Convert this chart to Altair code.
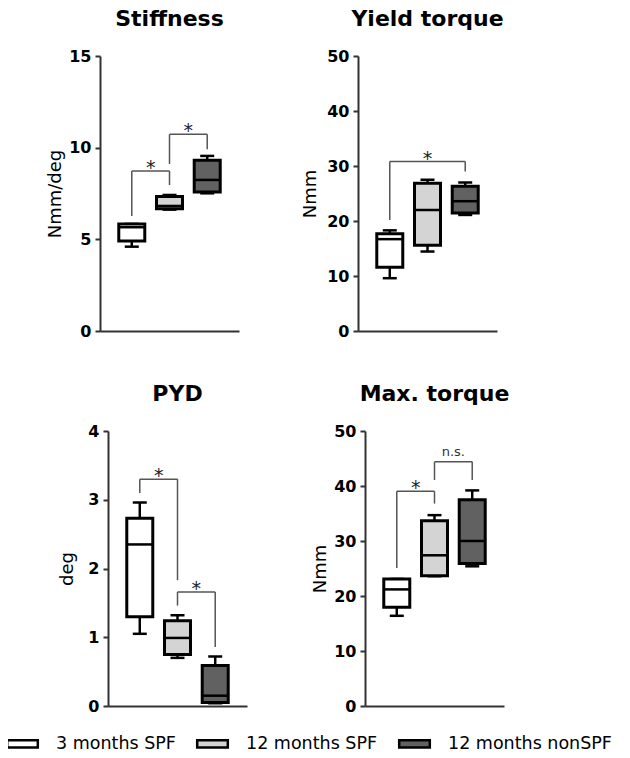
import altair as alt
import pandas as pd

# ---------------- data ----------------
groups = ["3 months SPF", "12 months SPF", "12 months nonSPF"]
group_pos = [1, 2, 3]
group_colors = ["#ffffff", "#d4d4d4", "#616161"]

# Stiffness (Nmm/deg)
stiff_min = [4.60, 6.62, 7.51]
stiff_q1 = [4.91, 6.67, 7.58]
stiff_med = [5.66, 6.82, 8.24]
stiff_q3 = [5.84, 7.33, 9.31]
stiff_max = [5.84, 7.42, 9.55]
stiff_br_from = [1, 2]
stiff_br_to = [2, 3]
stiff_br_top = [8.73, 10.73]
stiff_br_left = [6.27, 9.11]
stiff_br_right = [7.96, 9.91]
stiff_br_label = ["*", "*"]

# Yield torque (Nmm)
yield_min = [9.6, 14.45, 21.1]
yield_q1 = [11.6, 15.6, 21.45]
yield_med = [16.7, 22.0, 23.6]
yield_q3 = [17.7, 26.85, 26.3]
yield_max = [18.3, 27.5, 27.0]
yield_br_from = [1]
yield_br_to = [3]
yield_br_top = [30.8]
yield_br_left = [20.2]
yield_br_right = [29.0]
yield_br_label = ["*"]

# PYD (deg)
pyd_min = [1.05, 0.70, 0.04]
pyd_q1 = [1.30, 0.75, 0.05]
pyd_med = [2.35, 0.99, 0.15]
pyd_q3 = [2.73, 1.24, 0.59]
pyd_max = [2.96, 1.32, 0.72]
pyd_br_from = [1, 2]
pyd_br_to = [2, 3]
pyd_br_top = [3.30, 1.66]
pyd_br_left = [3.10, 1.46]
pyd_br_right = [1.83, 0.86]
pyd_br_label = ["*", "*"]

# Max. torque (Nmm)
max_min = [16.4, 23.6, 25.4]
max_q1 = [17.95, 23.7, 25.9]
max_med = [21.2, 27.4, 30.0]
max_q3 = [23.1, 33.7, 37.5]
max_max = [23.1, 34.7, 39.2]
max_br_from = [1, 2]
max_br_to = [2, 3]
max_br_top = [39.05, 44.4]
max_br_left = [25.1, 41.1]
max_br_right = [36.8, 41.1]
max_br_label = ["*", "n.s."]

FONT = "DejaVu Sans"
PW, PH = 139, 275

LEGEND = alt.Legend(
    title=None, orient="none", legendX=1, legendY=677, direction="horizontal",
    symbolType="M-1.7,-0.4H1.7V0.4H-1.7Z", symbolSize=324,
    symbolStrokeColor="black", symbolStrokeWidth=2.5, symbolOpacity=1,
    labelFont=FONT, labelFontSize=17.5, labelColor="black", labelLimit=400,
    labelOffset=23, columnPadding=16)


def panel(title, unit, ymax, ticks, mins, q1s, meds, q3s, maxs,
          bfrom, bto, btop, bleft, bright, blabel, title_pad):
    box = pd.DataFrame({"group": groups, "pos": group_pos, "lo": mins, "q1": q1s,
                        "med": meds, "q3": q3s, "hi": maxs})
    br = pd.DataFrame({"x1": bfrom, "x2": bto, "top": btop, "left": bleft,
                       "right": bright, "label": blabel})

    xs = alt.Scale(domain=[0.29, 3.71], nice=False, zero=False)
    xa = alt.Axis(title=None, labels=False, ticks=False, grid=False,
                  domainColor="#333333", domainWidth=2)
    ys = alt.Scale(domain=[0, ymax], nice=False, zero=True)
    ya = alt.Axis(title=unit, values=ticks, grid=False, tickSize=5, tickWidth=2,
                  tickColor="#333333", domainColor="#333333", domainWidth=2,
                  labelFont=FONT, labelFontSize=16, labelFontWeight="bold",
                  labelColor="black", labelPadding=4, minExtent=27, maxExtent=27,
                  titleFont=FONT, titleFontSize=18, titleFontWeight="normal",
                  titleColor="black", titlePadding=title_pad, format="d")

    def X(f):
        return alt.X(f, type="quantitative", scale=xs, axis=xa)

    def Y(f):
        return alt.Y(f, type="quantitative", scale=ys, axis=ya)

    b = alt.Chart(box)
    whisk_hi = b.mark_rule(color="black", strokeWidth=2.5).encode(
        x=X("pos"), y=Y("q3"), y2="hi")
    whisk_lo = b.mark_rule(color="black", strokeWidth=2.5).encode(
        x=X("pos"), y=Y("lo"), y2="q1")
    cap_hi = b.mark_tick(orient="horizontal", size=14, thickness=2.5,
                         color="black", opacity=1).encode(x=X("pos"), y=Y("hi"))
    cap_lo = b.mark_tick(orient="horizontal", size=14, thickness=2.5,
                         color="black", opacity=1).encode(x=X("pos"), y=Y("lo"))
    boxes = b.mark_bar(size=26, stroke="black", strokeWidth=3, opacity=1).encode(
        x=X("pos"), y=Y("q1"), y2="q3",
        fill=alt.Fill("group:N", scale=alt.Scale(domain=groups, range=group_colors),
                      legend=LEGEND))
    med = b.mark_tick(orient="horizontal", size=26, thickness=2.5,
                      color="black", opacity=1).encode(x=X("pos"), y=Y("med"))

    c = alt.Chart(br)
    bcol = "#555555"
    top = c.mark_rule(color=bcol, strokeWidth=1.5).encode(x=X("x1"), x2="x2", y=Y("top"))
    legl = c.mark_rule(color=bcol, strokeWidth=1.5).encode(x=X("x1"), y=Y("top"), y2="left")
    legr = c.mark_rule(color=bcol, strokeWidth=1.5).encode(x=X("x2"), y=Y("top"), y2="right")
    star = c.transform_filter(alt.datum.label == "*").transform_calculate(
        mid="(datum.x1 + datum.x2) / 2").mark_text(
        font=FONT, fontSize=19, color="#222222", baseline="alphabetic", dy=3).encode(
        x=X("mid"), y=Y("top"), text="label:N")
    ns = c.transform_filter(alt.datum.label != "*").transform_calculate(
        mid="(datum.x1 + datum.x2) / 2").mark_text(
        font=FONT, fontSize=13, color="#333333", baseline="alphabetic", dy=-6).encode(
        x=X("mid"), y=Y("top"), text="label:N")

    return alt.layer(whisk_hi, whisk_lo, cap_hi, cap_lo, boxes, med,
                     top, legl, legr, star, ns).properties(
        width=PW, height=PH,
        title=alt.TitleParams(title, font=FONT, fontSize=22, fontWeight="bold",
                              color="black", anchor="middle", baseline="alphabetic",
                              offset=0))


p1 = panel("Stiffness", "Nmm/deg", 15, [0, 5, 10, 15], stiff_min, stiff_q1, stiff_med,
           stiff_q3, stiff_max, stiff_br_from, stiff_br_to, stiff_br_top, stiff_br_left,
           stiff_br_right, stiff_br_label, 8.5)
p2 = panel("Yield torque", "Nmm", 50, [0, 10, 20, 30, 40, 50], yield_min, yield_q1,
           yield_med, yield_q3, yield_max, yield_br_from, yield_br_to, yield_br_top,
           yield_br_left, yield_br_right, yield_br_label, 11.5)
p3 = panel("PYD", "deg", 4, [0, 1, 2, 3, 4], pyd_min, pyd_q1, pyd_med, pyd_q3, pyd_max,
           pyd_br_from, pyd_br_to, pyd_br_top, pyd_br_left, pyd_br_right, pyd_br_label, 5)
p4 = panel("Max. torque", "Nmm", 50, [0, 10, 20, 30, 40, 50], max_min, max_q1, max_med,
           max_q3, max_max, max_br_from, max_br_to, max_br_top, max_br_left,
           max_br_right, max_br_label, 9)


def spacer(w):
    return alt.Chart(pd.DataFrame({"v": [0]})).mark_point(opacity=0).encode(
        x=alt.value(0), y=alt.value(0)).properties(width=w, height=10)


row1 = alt.hconcat(spacer(35), alt.hconcat(p1, p2, spacing=62), spacing=0)
row2 = alt.hconcat(spacer(46.5), alt.hconcat(p3, p4, spacing=64), spacing=0)

chart = alt.vconcat(row1, row2, spacing=44).properties(padding=0).configure_view(
    stroke=None)

chart.save("out.html", embed_options={"renderer": "svg", "actions": False})
